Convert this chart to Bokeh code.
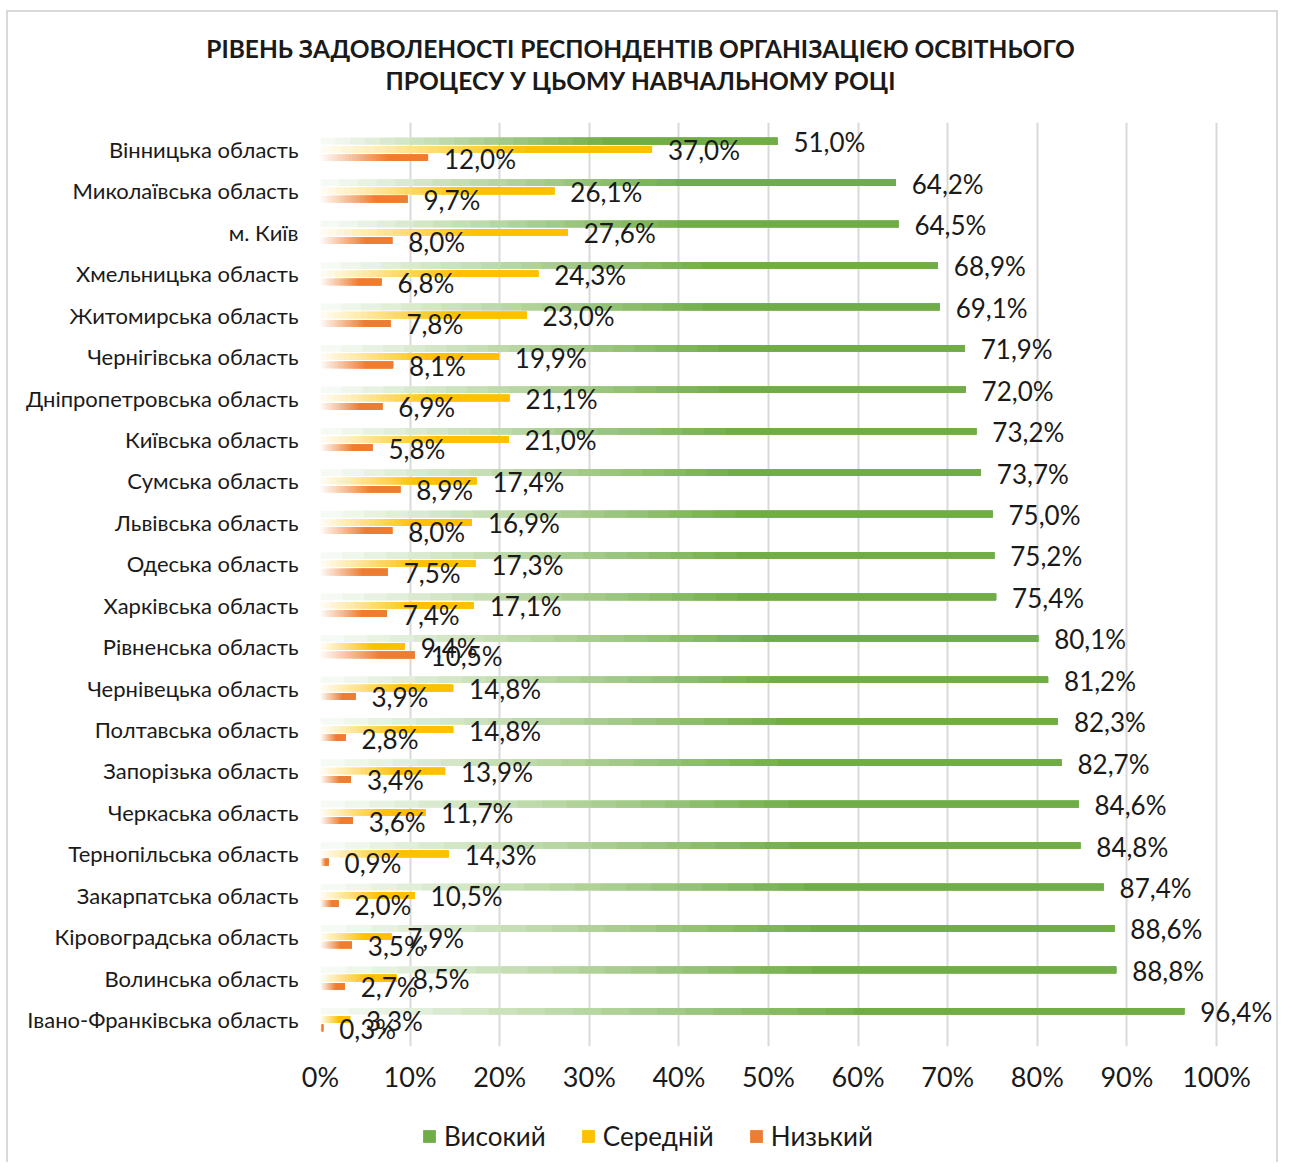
from bokeh.plotting import figure
from bokeh.layouts import column
from bokeh.models import (ColumnDataSource, FactorRange, Range1d, LabelSet, Label, Legend,
                          LegendItem, FixedTicker)
from bokeh.core.properties import value
from bokeh.transform import dodge
from bokeh.embed import file_html
from bokeh.resources import INLINE

title_lines = ["РІВЕНЬ ЗАДОВОЛЕНОСТІ РЕСПОНДЕНТІВ ОРГАНІЗАЦІЄЮ ОСВІТНЬОГО",
               "ПРОЦЕСУ У ЦЬОМУ НАВЧАЛЬНОМУ РОЦІ"]

regions = ["Вінницька область", "Миколаївська область", "м. Київ", "Хмельницька область",
           "Житомирська область", "Чернігівська область", "Дніпропетровська область",
           "Київська область", "Сумська область", "Львівська область", "Одеська область",
           "Харківська область", "Рівненська область", "Чернівецька область",
           "Полтавська область", "Запорізька область", "Черкаська область",
           "Тернопільська область", "Закарпатська область", "Кіровоградська область",
           "Волинська область", "Івано-Франківська область"]

high = [51.0, 64.2, 64.5, 68.9, 69.1, 71.9, 72.0, 73.2, 73.7, 75.0, 75.2, 75.4,
        80.1, 81.2, 82.3, 82.7, 84.6, 84.8, 87.4, 88.6, 88.8, 96.4]
mid = [37.0, 26.1, 27.6, 24.3, 23.0, 19.9, 21.1, 21.0, 17.4, 16.9, 17.3, 17.1,
       9.4, 14.8, 14.8, 13.9, 11.7, 14.3, 10.5, 7.9, 8.5, 3.3]
low = [12.0, 9.7, 8.0, 6.8, 7.8, 8.1, 6.9, 5.8, 8.9, 8.0, 7.5, 7.4,
       10.5, 3.9, 2.8, 3.4, 3.6, 0.9, 2.0, 3.5, 2.7, 0.3]

series_names = ["Високий", "Середній", "Низький"]
series_colors = ["#70ad47", "#ffc000", "#ed7d31"]

tick_values = [0, 10, 20, 30, 40, 50, 60, 70, 80, 90, 100]
tick_labels = ["0%", "10%", "20%", "30%", "40%", "50%", "60%", "70%", "80%", "90%", "100%"]

FONT = "Lato"
TEXT = "#1a1a1a"
W = 1285


def clear_bg(fig):
    fig.border_fill_color = None
    fig.background_fill_color = None
    fig.outline_line_color = None


# ---------------- title block ----------------
TH = 122
tfig = figure(width=W, height=TH, x_range=Range1d(0, W), y_range=Range1d(TH, 0),
              x_axis_type=None, y_axis_type=None, output_backend="svg",
              toolbar_location=None, min_border=0, frame_align=False)
clear_bg(tfig)
tfig.grid.visible = False
for line, ty in zip(title_lines, [48, 80]):
    tfig.add_layout(Label(x=640, y=ty, text=line, text_align="center", text_baseline="middle",
                          text_font=FONT, text_font_style="bold", text_font_size="24.5px",
                          text_color=TEXT))

# ---------------- main chart ----------------
X_MAX = 100 * 960 / 896   # extra room on the right for the value labels
p = figure(width=W, height=980,
           y_range=FactorRange(factors=regions[::-1], range_padding=0.15,
                               range_padding_units="absolute"),
           x_range=Range1d(0, X_MAX),
           output_backend="svg", toolbar_location=None,
           min_border_left=320, min_border_right=5,
           min_border_top=0, min_border_bottom=56)
clear_bg(p)


def mix(c, t):
    r, g, b = int(c[1:3], 16), int(c[3:5], 16), int(c[5:7], 16)
    w = 0.94 * (1 - t)
    return "#%02x%02x%02x" % tuple(round(ch + (255 - ch) * w) for ch in (r, g, b))


N = 20
GRAD_END = 0.65
offsets = [0.2, 0.0, -0.2]
for values, color, off in zip([high, mid, low], series_colors, offsets):
    cats, lefts, rights, colors = [], [], [], []
    for cat, v in zip(regions, values):
        for k in range(N):
            cats.append(cat)
            lefts.append(v * GRAD_END * k / N)
            rights.append(v)
            colors.append(mix(color, k / (N - 1)))
    src = ColumnDataSource(dict(cat=cats, left=lefts, right=rights, color=colors))
    p.hbar(y=dodge("cat", off, range=p.y_range), left="left", right="right",
           height=0.16, fill_color="color", line_color=None, source=src)

    lab = ColumnDataSource(dict(cat=regions, x=values,
                                text=[f"{v:.1f}%".replace(".", ",") for v in values]))
    p.add_layout(LabelSet(x="x", y=dodge("cat", off, range=p.y_range), text="text", source=lab,
                          x_offset=16, y_offset=-1, text_baseline="middle",
                          text_font=value(FONT), text_font_size=value("26px"),
                          text_color=value(TEXT)))

p.xaxis.ticker = FixedTicker(ticks=tick_values)
p.xaxis.major_label_overrides = dict(zip(tick_values, tick_labels))
p.xaxis.axis_line_color = None
p.xaxis.major_tick_line_color = None
p.xaxis.minor_tick_line_color = None
p.xaxis.major_tick_out = 0
p.xaxis.major_label_standoff = 13
p.xaxis.major_label_text_font = FONT
p.xaxis.major_label_text_font_size = "27px"
p.xaxis.major_label_text_color = TEXT

p.yaxis.axis_line_color = None
p.yaxis.major_tick_line_color = None
p.yaxis.minor_tick_line_color = None
p.yaxis.major_tick_out = 0
p.yaxis.major_label_standoff = 22
p.yaxis.major_label_text_font = FONT
p.yaxis.major_label_text_font_size = "22px"
p.yaxis.major_label_text_color = TEXT

p.ygrid.grid_line_color = None
p.xgrid.grid_line_color = "#d9d9d9"
p.xgrid.grid_line_width = 2

# ---------------- legend block ----------------
LH = 60
lfig = figure(width=W, height=LH, x_range=Range1d(0, 1), y_range=Range1d(0, 1),
              x_axis_type=None, y_axis_type=None, output_backend="svg",
              toolbar_location=None, min_border=0, frame_align=False)
clear_bg(lfig)
lfig.grid.visible = False
items = []
for n, c in zip(series_names, series_colors):
    r = lfig.hbar(y=[0], left=[0], right=[0], height=0, fill_color=c, line_color=None)
    items.append(LegendItem(label=n, renderers=[r], index=0))
legend = Legend(items=items, orientation="horizontal", location=(421, 10),
                label_text_font=FONT, label_text_font_size="26px", label_text_color=TEXT,
                glyph_width=16, glyph_height=16, label_standoff=7, spacing=34,
                border_line_color=None, background_fill_alpha=0, padding=0, margin=0)
lfig.add_layout(legend, "center")

layout = column(tfig, p, lfig, spacing=0)
line = "linear-gradient(#d9d9d9, #d9d9d9)"
layout.styles = {
    "background-color": "white",
    "background-image": f"{line}, {line}, {line}",
    "background-position": "6px 10px, 1276px 10px, 6px 10px",
    "background-size": "2px 100%, 2px 100%, 1272px 2px",
    "background-repeat": "no-repeat",
}
open("out.html", "w").write(file_html(layout, INLINE))
